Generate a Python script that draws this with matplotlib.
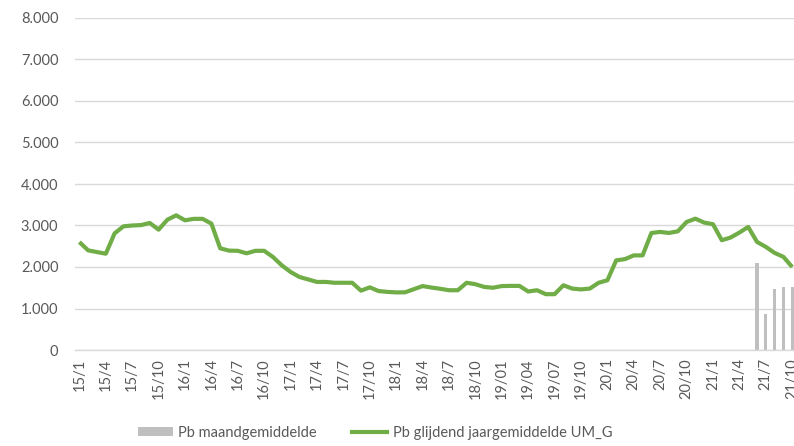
import matplotlib
matplotlib.use("Agg")
import matplotlib.pyplot as plt
from matplotlib.patches import Patch
from matplotlib.lines import Line2D
import numpy as np

# Monthly categories 2015-01 .. 2021-10
months = [f"{y}/{m}" for y in range(15, 22) for m in range(1, 13)][:82]

tick_labels = ["15/1", "15/4", "15/7", "15/10", "16/1", "16/4", "16/7", "16/10",
               "17/1", "17/4", "17/7", "17/10", "18/1", "18/4", "18/7", "18/10",
               "19/01", "19/04", "19/07", "19/10", "20/1", "20/4", "20/7", "20/10",
               "21/1", "21/4", "21/7", "21/10"]

# Pb glijdend jaargemiddelde UM_G (one value per month)
rolling_avg = [
    2600, 2400, 2360, 2320, 2810, 2980, 3000, 3010, 3060, 2900, 3140, 3245,  # 2015
    3125, 3160, 3160, 3045, 2450, 2395, 2390, 2330, 2390, 2390, 2240, 2040,  # 2016
    1880, 1760, 1700, 1640, 1640, 1620, 1620, 1620, 1430, 1510, 1420, 1400,  # 2017
    1388, 1390, 1465, 1540, 1505, 1475, 1440, 1440, 1620, 1585, 1520, 1500,  # 2018
    1540, 1545, 1545, 1410, 1440, 1345, 1345, 1560, 1480, 1460, 1480, 1620,  # 2019
    1680, 2160, 2190, 2280, 2280, 2820, 2845, 2820, 2860, 3085, 3165, 3070,  # 2020
    3030, 2645, 2710, 2830, 2965, 2605, 2485, 2340, 2245, 2000,              # 2021
]

# Pb maandgemiddelde (only the last months have values)
bar_months = ["21/6", "21/7", "21/8", "21/9", "21/10"]
bar_values = [2090, 870, 1470, 1520, 1520]

GREEN = "#70AD47"
BARGRAY = "#BFBFBF"
TXT = "#595959"
GRID = "#D9D9D9"

plt.rcParams['font.family'] = ['Lato', 'DejaVu Sans']

fig = plt.figure(figsize=(7.94, 4.46), dpi=100)
ax = fig.add_axes([75 / 794, 96 / 446, 1 - 75 / 794, (350 - 18) / 446])

x = np.arange(len(months))
bar_x = [months.index(m) for m in bar_months]
ax.bar(bar_x, bar_values, width=0.35, color=BARGRAY, zorder=2)
ax.plot(x, rolling_avg, color=GREEN, linewidth=3.0, solid_joinstyle='round',
        solid_capstyle='butt', zorder=3)

ax.set_ylim(0, 8000)
ax.set_xlim(-0.5, (794 - 75) / 8.8 - 0.5)
yt = np.arange(0, 8001, 1000)
ax.set_yticks(yt)
ax.set_yticklabels([f"{v:,}".replace(",", ".") for v in yt])

ax.set_xticks([months.index(t.replace("/0", "/")) for t in tick_labels])
ax.set_xticklabels(tick_labels, rotation=90)

ax.grid(axis='y', color=GRID, linewidth=1)
ax.set_axisbelow(True)
for s in ['left', 'right', 'top']:
    ax.spines[s].set_visible(False)
ax.spines['bottom'].set_color(GRID)
ax.spines['bottom'].set_linewidth(1)
ax.tick_params(axis='y', length=0, pad=12, labelsize=10.5, labelcolor=TXT)
ax.tick_params(axis='x', length=0, pad=6, labelsize=10.5, labelcolor=TXT)

handles = [Patch(facecolor=BARGRAY, edgecolor='none'),
           Line2D([0], [0], color=GREEN, linewidth=3.0)]
fig.legend(handles, ["Pb maandgemiddelde", "Pb glijdend jaargemiddelde UM_G"],
           loc='center', bbox_to_anchor=(375 / 794, 13 / 446), ncol=2,
           frameon=False, fontsize=10.5, labelcolor=TXT, handlelength=2.4,
           handleheight=0.6, handletextpad=0.4, columnspacing=2.4)

fig.savefig("out.png", dpi=100)
